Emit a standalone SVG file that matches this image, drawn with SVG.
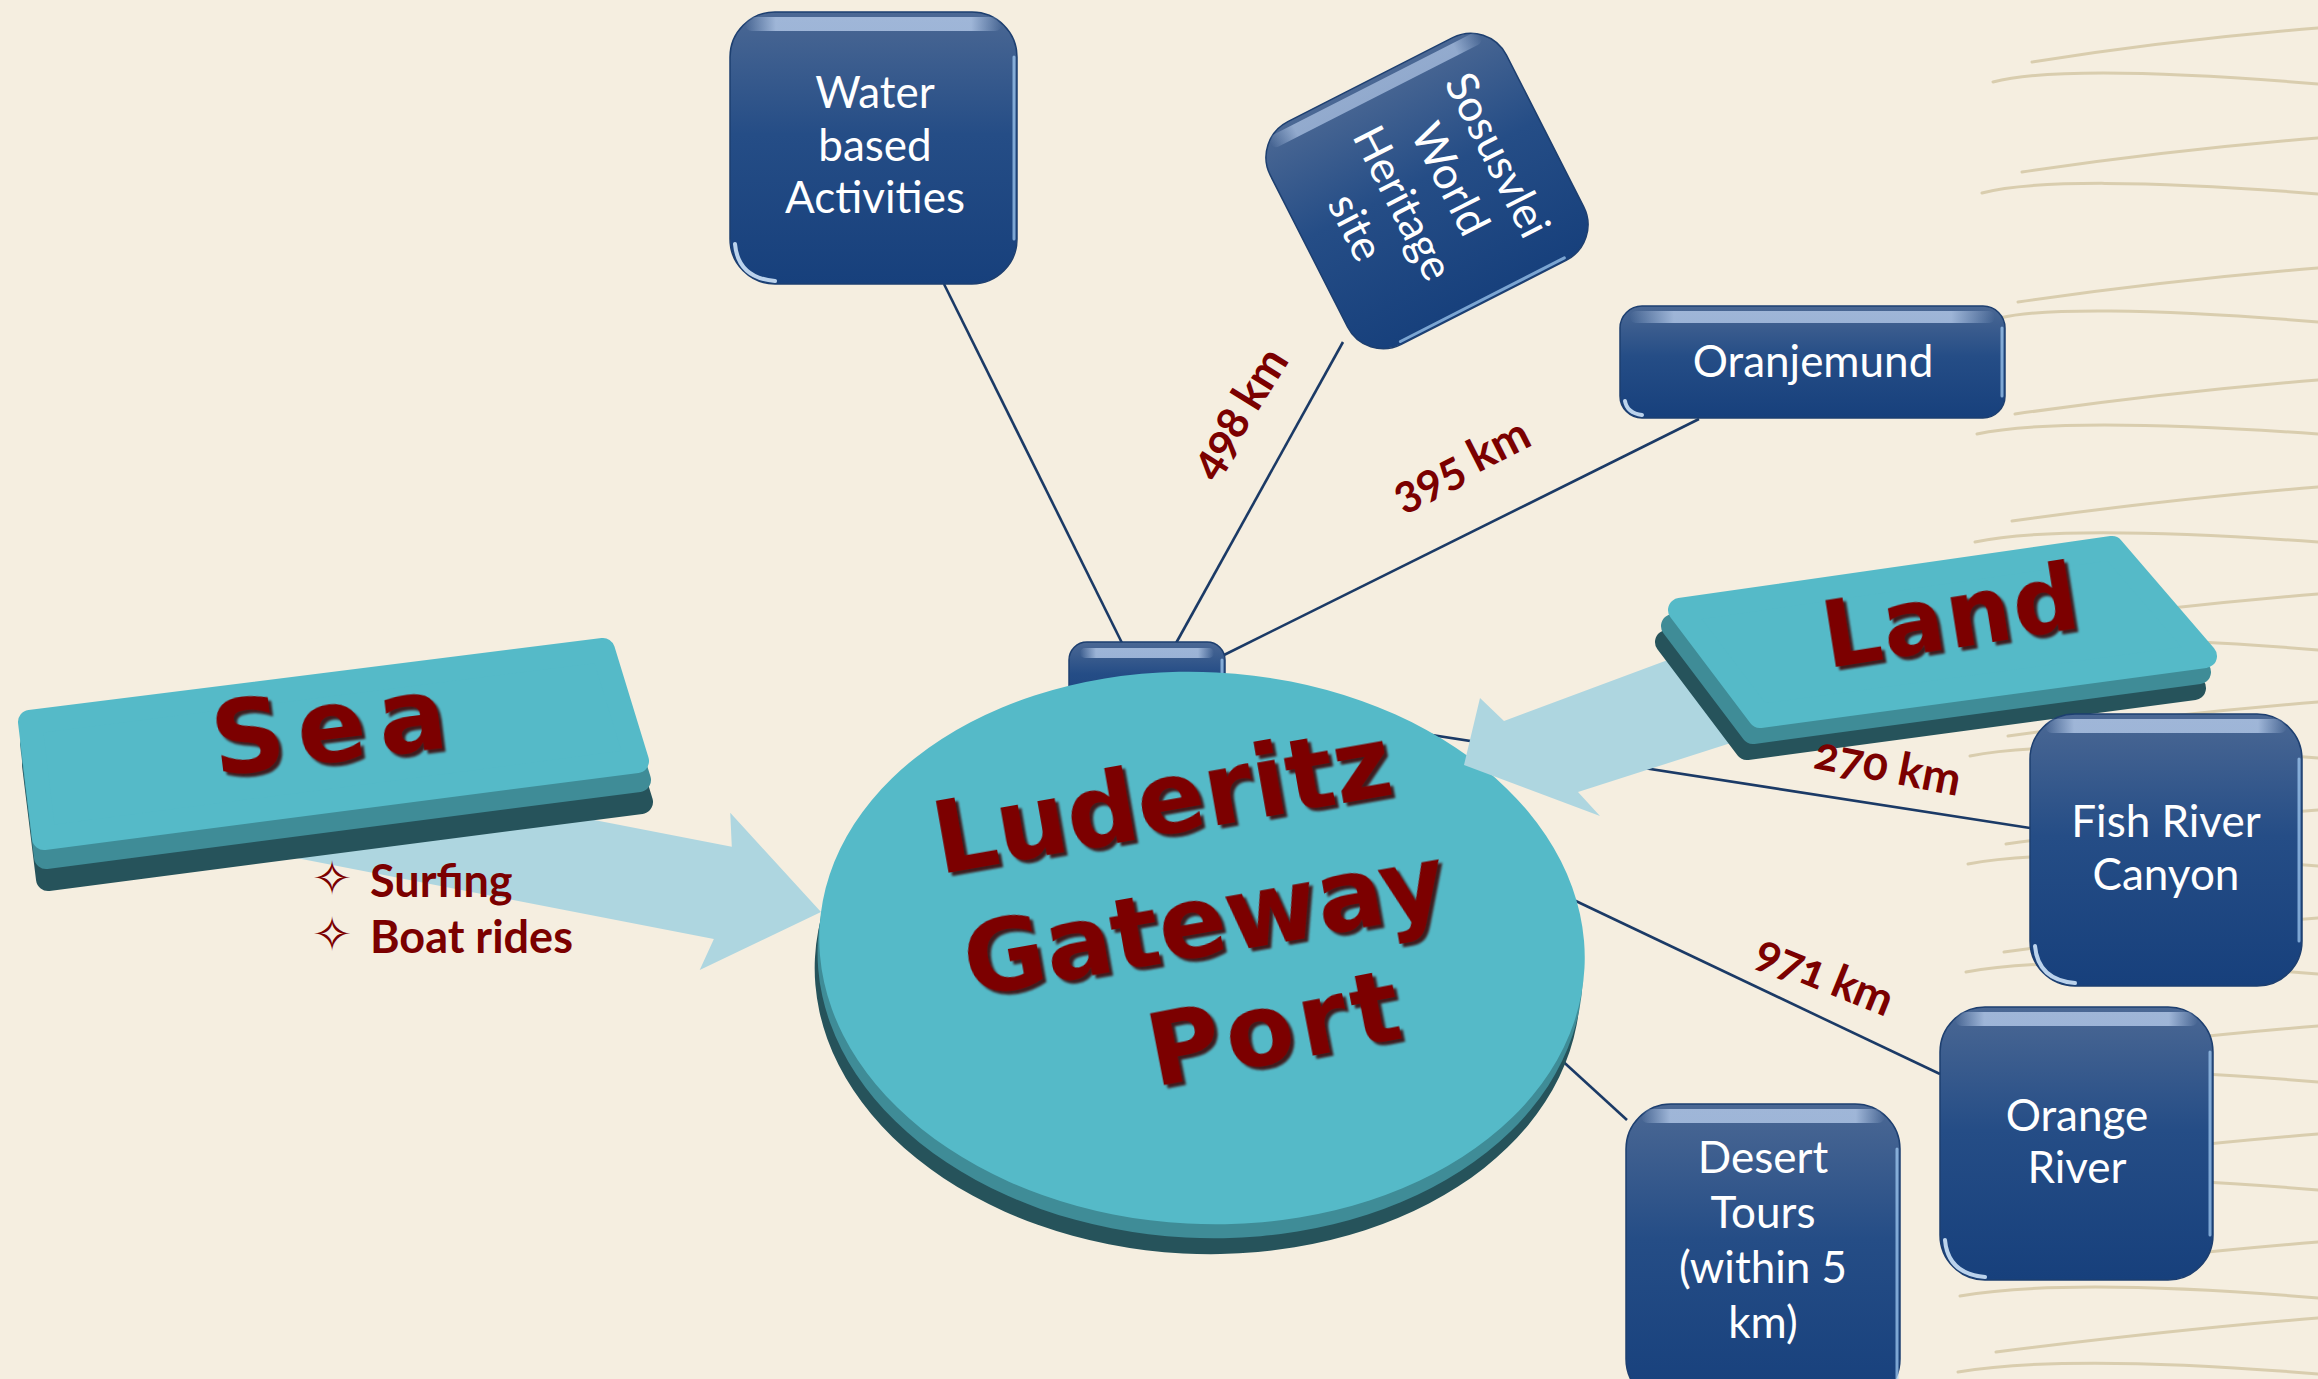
<svg xmlns="http://www.w3.org/2000/svg" width="2318" height="1379" viewBox="0 0 2318 1379">
<defs>
<linearGradient id="gBlue" x1="0" y1="0" x2="0" y2="1">
<stop offset="0" stop-color="#4b6894"/><stop offset="0.45" stop-color="#254d86"/><stop offset="1" stop-color="#17407c"/>
</linearGradient>
<linearGradient id="gBlueH" x1="0" y1="0" x2="1" y2="0">
<stop offset="0" stop-color="#4b6894"/><stop offset="0.45" stop-color="#254d86"/><stop offset="1" stop-color="#17407c"/>
</linearGradient>
<linearGradient id="gHl" x1="0" y1="0" x2="1" y2="0">
<stop offset="0" stop-color="#c4d8f5" stop-opacity="0"/><stop offset="0.12" stop-color="#c4d8f5" stop-opacity="0.7"/><stop offset="0.88" stop-color="#c4d8f5" stop-opacity="0.7"/><stop offset="1" stop-color="#c4d8f5" stop-opacity="0"/>
</linearGradient>
<linearGradient id="gHlV" x1="0" y1="0" x2="0" y2="1">
<stop offset="0" stop-color="#c4d8f5" stop-opacity="0"/><stop offset="0.12" stop-color="#c4d8f5" stop-opacity="0.6"/><stop offset="0.88" stop-color="#c4d8f5" stop-opacity="0.6"/><stop offset="1" stop-color="#c4d8f5" stop-opacity="0"/>
</linearGradient>
<filter id="shadow" x="-10%" y="-10%" width="130%" height="140%">
<feDropShadow dx="3" dy="4" stdDeviation="0.8" flood-color="#3a0000" flood-opacity="0.85"/>
</filter>
<style>
.bgline{fill:none;stroke:#d9cdae;stroke-width:3;stroke-linecap:round}
.conn{fill:none;stroke:#1b3a66;stroke-width:2.6}
.box{fill:url(#gBlue);stroke:#1d3f70;stroke-width:1.5}
.boxh{fill:url(#gBlueH);stroke:#1d3f70;stroke-width:1.5}
.hl{fill:url(#gHl)}
.hlv{fill:url(#gHlV)}
.glint{fill:none;stroke:#a6d0f6;stroke-width:3;stroke-linecap:round;opacity:0.7}
.bl{fill:none;stroke:#d8ecff;stroke-width:4;stroke-linecap:round;opacity:0.85}
.btxt{font-family:Lato,"Open Sans",sans-serif;font-size:44px;fill:#ffffff;text-anchor:middle}
.teal{fill:#55bac8;stroke:#55bac8;stroke-width:24;stroke-linejoin:round}
.mid{fill:#3f8c97;stroke:#3f8c97;stroke-width:24;stroke-linejoin:round}
.dark{fill:#26535b;stroke:#26535b;stroke-width:24;stroke-linejoin:round}
.arrow{fill:#aed6e0}
.big{font-family:"DejaVu Sans",sans-serif;font-weight:bold;fill:#7b0000;text-anchor:middle;filter:url(#shadow)}
.lbl{font-family:Lato,"Open Sans",sans-serif;font-weight:bold;font-size:46px;fill:#7b0000;text-anchor:middle;font-variant-numeric:oldstyle-nums}
.bul{font-family:Lato,"Open Sans",sans-serif;font-weight:bold;font-size:45px;fill:#7b0000}
.star{font-family:"DejaVu Sans",sans-serif;font-weight:normal;font-size:48px}
</style>
</defs>
<rect x="0" y="0" width="2318" height="1379" fill="#f5eee0"/>
<g id="background-lines">
<path class="bgline" d="M2032,62 Q2170,40 2318,28"/><path class="bgline" d="M1993,82 C2040,70 2150,70 2318,84"/>
<path class="bgline" d="M2022,172 Q2170,150 2318,138"/><path class="bgline" d="M1982,193 C2030,180 2150,180 2318,194"/>
<path class="bgline" d="M2018,302 Q2170,280 2318,268"/><path class="bgline" d="M2000,318 C2040,308 2150,308 2318,322"/>
<path class="bgline" d="M2015,414 Q2170,392 2318,380"/><path class="bgline" d="M1977,434 C2030,422 2150,422 2318,434"/>
<path class="bgline" d="M2012,521 Q2170,499 2318,487"/><path class="bgline" d="M1975,542 C2030,530 2150,530 2318,542"/>
<path class="bgline" d="M2010,628 Q2170,606 2318,594"/><path class="bgline" d="M1972,648 C2030,636 2150,636 2318,650"/>
<path class="bgline" d="M2008,736 Q2170,714 2318,702"/><path class="bgline" d="M1970,756 C2030,744 2150,744 2318,758"/>
<path class="bgline" d="M2006,844 Q2170,822 2318,810"/><path class="bgline" d="M1968,864 C2030,852 2150,852 2318,866"/>
<path class="bgline" d="M2004,952 Q2170,930 2318,918"/><path class="bgline" d="M1966,972 C2030,960 2150,960 2318,974"/>
<path class="bgline" d="M2002,1060 Q2170,1038 2318,1026"/><path class="bgline" d="M1964,1080 C2030,1068 2150,1068 2318,1082"/>
<path class="bgline" d="M2000,1168 Q2170,1146 2318,1134"/><path class="bgline" d="M1962,1188 C2030,1176 2150,1176 2318,1190"/>
<path class="bgline" d="M1998,1276 Q2170,1254 2318,1242"/><path class="bgline" d="M1960,1296 C2030,1284 2150,1284 2318,1298"/>
<path class="bgline" d="M1996,1352 Q2170,1330 2318,1318"/><path class="bgline" d="M1958,1372 C2030,1360 2150,1360 2318,1374"/>
</g>
<g id="connectors">
<line class="conn" x1="944" y1="284" x2="1123" y2="645"/>
<line class="conn" x1="1343" y1="342" x2="1175" y2="645"/>
<line class="conn" x1="1699" y1="419" x2="1222" y2="656"/>
<line class="conn" x1="1380" y1="727" x2="2030" y2="828"/>
<line class="conn" x1="1540" y1="884" x2="1940" y2="1074"/>
<line class="conn" x1="1545" y1="1045" x2="1627" y2="1120"/>
</g>
<g id="hub-tab">
<rect class="box" x="1069" y="642" width="156" height="70" rx="18"/>
<rect class="hl" x="1080" y="648" width="134" height="10" rx="5"/>
<path class="glint" d="M1222,660 L1222,700"/>
</g>
<g id="hub">
<g transform="rotate(3 1202 948)">
<ellipse cx="1199" cy="978" rx="383" ry="276" fill="#26535b"/>
<ellipse cx="1201" cy="962" rx="383" ry="276" fill="#3f8c97"/>
<ellipse cx="1202" cy="948" rx="383" ry="276" fill="#55bac8"/>
</g>
</g>
<g id="arrows">
<polygon class="arrow" transform="translate(821 912) rotate(11)" points="0,0 -108,80 -100,47 -600,47 -600,-47 -100,-47 -108,-80"/>
<polygon class="arrow" points="1700,648 1504,721 1480,698 1464,765 1600,816 1578,792 1762,733"/>
</g>
<g id="hub-label">
<text class="big" font-size="100" transform="translate(1168 834) rotate(-10)">Luderitz</text>
<text class="big" font-size="100" transform="translate(1210 955) rotate(-10)">Gateway</text>
<text class="big" font-size="100" transform="translate(1280 1062) rotate(-11)" textLength="255" lengthAdjust="spacing">Port</text>
</g>
<g id="sea">
<polygon class="dark" points="34,765 607,692 641,802 48,879"/>
<polygon class="mid" points="32,744 605,670 639,780 46,857"/>
<polygon class="teal" points="30,722 603,650 637,761 44,838"/>
<text class="big" font-size="102" transform="translate(333 762) rotate(-7)" textLength="236" lengthAdjust="spacing">Sea</text>
</g>
<g id="land">
<polygon class="dark" points="1667,642 2101,578 2194,688 1747,748"/>
<polygon class="mid" points="1673,626 2106,563 2199,672 1753,732"/>
<polygon class="teal" points="1680,610 2112,548 2205,656 1760,716"/>
<text class="big" font-size="92" transform="translate(1955 648) rotate(-9)" textLength="258" lengthAdjust="spacing">Land</text>
</g>
<g id="sea-items">
<text class="bul" x="312" y="895"><tspan class="star">✧</tspan><tspan x="370" y="897">Surfing</tspan></text>
<text class="bul" x="312" y="951"><tspan class="star">✧</tspan><tspan x="370" y="953">Boat rides</tspan></text>
</g>
<g id="water">
<rect class="box" x="730" y="12" width="287" height="272" rx="45"/>
<rect class="hl" x="745" y="17" width="257" height="14" rx="7"/>
<path class="glint" d="M1014,57 L1014,239"/>
<path class="bl" d="M735,244 Q738,278 775,281"/>
<text class="btxt" x="875" y="108">Water</text>
<text class="btxt" x="875" y="161">based</text>
<text class="btxt" x="875" y="213">Activities</text>
</g>
<g id="sosusvlei" transform="translate(1427 191) rotate(63)">
<rect class="boxh" x="-125" y="-132.5" width="250" height="265" rx="40"/>
<rect class="hlv" x="-120" y="-118" width="13" height="236" rx="6"/>
<path class="glint" d="M122,-92 L122,92"/>
<text class="btxt" x="0" y="-64">Sosusvlei</text>
<text class="btxt" x="0" y="-11">World</text>
<text class="btxt" x="0" y="42">Heritage</text>
<text class="btxt" x="0" y="95">site</text>
</g>
<g id="oranjemund">
<rect class="box" x="1620" y="306" width="385" height="112" rx="22"/>
<rect class="hl" x="1630" y="311" width="365" height="12" rx="6"/>
<path class="glint" d="M2002,328 L2002,396"/>
<path class="bl" d="M1625,401 Q1627,413 1642,415"/>
<text class="btxt" x="1813" y="377">Oranjemund</text>
</g>
<g id="fish-river">
<rect class="box" x="2030" y="714" width="272" height="272" rx="45"/>
<rect class="hl" x="2045" y="719" width="242" height="14" rx="7"/>
<path class="glint" d="M2299,759 L2299,941"/>
<path class="bl" d="M2035,946 Q2038,980 2075,983"/>
<text class="btxt" x="2166" y="837">Fish River</text>
<text class="btxt" x="2166" y="890">Canyon</text>
</g>
<g id="orange-river">
<rect class="box" x="1940" y="1007" width="273" height="273" rx="45"/>
<rect class="hl" x="1955" y="1012" width="243" height="14" rx="7"/>
<path class="glint" d="M2210,1052 L2210,1235"/>
<path class="bl" d="M1945,1240 Q1948,1274 1985,1277"/>
<text class="btxt" x="2077" y="1131">Orange</text>
<text class="btxt" x="2077" y="1183">River</text>
</g>
<g id="desert-tours">
<rect class="box" x="1626" y="1104" width="274" height="300" rx="45"/>
<rect class="hl" x="1641" y="1109" width="244" height="14" rx="7"/>
<path class="glint" d="M1897,1149 L1897,1379"/>
<text class="btxt" x="1763" y="1173">Desert</text>
<text class="btxt" x="1763" y="1228">Tours</text>
<text class="btxt" x="1763" y="1283">(within 5</text>
<text class="btxt" x="1763" y="1338">km)</text>
</g>
<g id="distance-labels">
<text class="lbl" transform="translate(1252 421) rotate(-58)" textLength="143" lengthAdjust="spacing">498 km</text>
<text class="lbl" transform="translate(1468 478) rotate(-27)" textLength="148" lengthAdjust="spacing">395 km</text>
<text class="lbl" transform="translate(1885 782) rotate(11)" textLength="148" lengthAdjust="spacing">270 km</text>
<text class="lbl" transform="translate(1819 990) rotate(22)" textLength="144" lengthAdjust="spacing">971 km</text>
</g>
</svg>
